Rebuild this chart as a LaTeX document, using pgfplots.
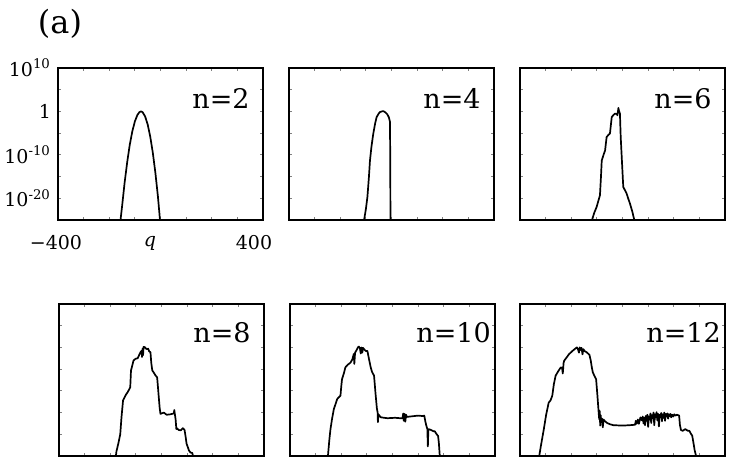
\documentclass[border=0pt]{standalone}
\usepackage{fontspec}
\setmainfont{DejaVu Serif}
\usepackage{pgfplots}
\pgfplotsset{compat=1.18}

% y is log10 of the probability, labelled as powers of ten
\pgfplotsset{
  panel/.style={
    scale only axis, width=102.5pt, height=76pt,
    xmin=-400, xmax=400, ymin=-25, ymax=10,
    xtick={-300,-200,...,300}, ytick={-20,-15,...,5},
    xticklabels={}, yticklabels={},
    tick align=inside, major tick length=1.5pt,
    axis line style={line width=0.75pt},
    every tick/.append style={line width=0.5pt},
    clip=false,
  },
  curve/.style={black, line width=0.85pt, no markers, line join=round},
}
\tikzset{nlab/.style={anchor=north west, inner sep=0pt, font=\fontsize{13.5}{15}\selectfont}}

\begin{document}
\begin{tikzpicture}
\path[use as bounding box] (0,0) rectangle (365.5pt,233pt);
\node[font=\fontsize{16}{18}\selectfont] at (30pt,221pt) {(a)};

% n=2
\begin{axis}[panel, at={(29pt,123pt)}, anchor=south west,
  ytick={-20,-15,...,10},
  yticklabels={10\textsuperscript{-20},,10\textsuperscript{-10},,1,,10\textsuperscript{10}},
  yticklabel style={font=\fontsize{9.5}{11}\selectfont}]
\addplot[curve] coordinates {
(-156,-25) (-150,-21.9) (-140,-16.4) (-130,-11.7) (-120,-7.7) (-110,-4.6)
(-100,-2.3) (-90,-0.8) (-82,-0.15) (-76,0) (-70,-0.16) (-60,-1.15) (-50,-3.0)
(-40,-5.8) (-30,-9.5) (-20,-14.1) (-10,-19.6) (-3,-24.3) (-2,-25)};
\node[nlab, xshift=67pt, yshift=-10pt] at (rel axis cs:0,1) {n=2};
\node[font=\fontsize{9.5}{11}\selectfont] at (axis cs:-408,-30.3) {−400};
\node[font=\fontsize{9.5}{11}\selectfont\itshape] at (axis cs:-41,-30.3) {q};
\node[font=\fontsize{9.5}{11}\selectfont] at (axis cs:365,-30.3) {400};
\end{axis}

% n=4
\begin{axis}[panel, at={(144.5pt,123pt)}, anchor=south west]
\addplot[curve] coordinates {
(-107,-25) (-100,-22.5) (-94,-19.7) (-88,-15) (-84,-11.3) (-78,-8) (-71,-5.1)
(-64,-2.8) (-58,-1.3) (-50,-0.5) (-45,-0.15) (-38,0) (-32,0.07) (-24,-0.2)
(-16,-0.7) (-10,-1.4) (-6,-2.4) (-5,-10) (-4,-25)};
\node[nlab, xshift=67pt, yshift=-10pt] at (rel axis cs:0,1) {n=4};
\end{axis}

% n=6
\begin{axis}[panel, at={(260pt,123pt)}, anchor=south west]
\addplot[curve] coordinates {
(-119,-25) (-110,-23.3) (-101,-22) (-88,-19.3) (-84,-15) (-81,-11.3) (-74,-10)
(-68,-9) (-62,-5.9) (-55,-5.4) (-49,-5.1) (-42,-1.3) (-35,-0.8) (-29,-0.5)
(-22,-0.6) (-20,-0.9) (-17,0.3) (-16,0.8) (-14,0.2) (-10,-0.5) (-7,-5.9)
(0,-14) (3,-17.4) (10,-18.2) (16,-18.9) (22,-20) (29,-21.2) (38,-23) (46,-25)};
\node[nlab, xshift=67pt, yshift=-10pt] at (rel axis cs:0,1) {n=6};
\end{axis}

% n=8
\begin{axis}[panel, at={(29.5pt,5pt)}, anchor=south west]
\addplot[curve] coordinates {
(-178,-25) (-176,-24) (-168,-22) (-161,-20) (-156,-16) (-150,-12.2) (-140,-11)
(-132,-10.3) (-122,-9.2) (-119,-5.3) (-109,-3) (-101,-2.6) (-93,-2.5) (-86,-1.6)
(-82,-1.1) (-78,-0.8) (-76,-2.2) (-74,-0.3) (-72,-1.8) (-70,0.1) (-69,0.15)
(-64,0) (-60,-0.3) (-56,-0.4) (-52,-0.3) (-48,-0.9) (-43,-1.1) (-40,-3.5)
(-36,-5.3) (-30,-5.8) (-24,-6.4) (-17,-6.9) (-14,-9) (-10,-11.9) (-7,-14)
(-4,-15.3) (0,-15.2) (9,-15) (20,-15.5) (35,-15.4) (48,-15.2) (50,-14.4)
(52,-15.3) (55,-16.5) (58,-18.8) (60,-18.6) (67,-19) (75,-19.1) (83,-18.6)
(90,-19) (94,-20.5) (98,-22.2) (103,-23) (107,-23.7) (113,-24.2) (120,-24.3) (123,-25)};
\node[nlab, xshift=67pt, yshift=-9pt] at (rel axis cs:0,1) {n=8};
\end{axis}

% n=10
\begin{axis}[panel, at={(145pt,5pt)}, anchor=south west]
\addplot[curve] coordinates {
(-252,-25) (-249,-23) (-246,-21) (-242,-18.8) (-236,-16.5) (-229,-14.2)
(-222,-13) (-216,-11.9) (-210,-11.5) (-203,-11.1) (-200,-9) (-197,-7.3)
(-190,-6) (-184,-4.6) (-175,-4) (-164,-3.5) (-157,-2.8) (-151,-1.5)
(-149,-3.8) (-146,-1.2) (-140,-0.6) (-135,0) (-131,0.2) (-127,-0.2)
(-124,-1.4) (-121,0) (-118,-1.2) (-115,-0.1) (-111,-0.4) (-105,-0.8)
(-98,-0.8) (-92,-2.6) (-85,-4.6) (-80,-5.6) (-72,-6.5) (-66,-10.8) (-61,-14)
(-58,-15) (-57,-17.2) (-55,-15.4) (-50,-15.8) (-45,-16.1) (-20,-16.3)
(10,-16.2) (30,-16.3) (39,-16.3) (42,-15.2) (44,-16.9) (47,-15.3) (50,-17.1)
(53,-15.5) (56,-16) (70,-15.9) (85,-15.8) (100,-15.7) (118,-15.8) (124,-15.7)
(128,-17) (132,-18) (136,-18.8) (138,-22.8) (140,-18.8) (150,-19) (160,-19.3)
(165,-19.3) (170,-19.8) (178,-20.4) (181,-22) (184,-24.6) (186,-25)};
\node[nlab, xshift=63pt, yshift=-9pt] at (rel axis cs:0,1) {n=10};
\end{axis}

% n=12
\begin{axis}[panel, at={(260pt,5pt)}, anchor=south west]
\addplot[curve] coordinates {
(-325,-25) (-318,-22.5) (-307,-18.8) (-298,-15.5) (-288,-12.7) (-281,-12.2)
(-274,-11.1) (-268,-8.5) (-261,-6.5) (-251,-5.5) (-241,-4.6) (-236,-4.7)
(-233,-6.0) (-230,-3.6) (-228,-3.1) (-218,-2.3) (-208,-1.5) (-195,-0.8)
(-185,-0.3) (-178,0) (-174,-0.4) (-170,-1.2) (-167,0) (-163,-0.6) (-160,-0.1)
(-156,-1.6) (-153,-0.4) (-147,-0.9) (-140,-1.1) (-133,-1.5) (-129,-1.7)
(-124,-3.0) (-120,-4.5) (-116,-5.7) (-110,-6.5) (-103,-7.3) (-98,-11) (-93,-15)
(-91,-16.5) (-89,-14.6) (-87,-18) (-85,-15.6) (-83,-17.2) (-80,-16.4)
(-77,-18.4) (-74,-16.6) (-70,-16.9) (-60,-17.4) (-48,-17.7) (-36,-17.9)
(0,-18) (30,-17.9) (49,-17.8) (52,-16.9) (55,-17.6) (60,-16.6) (64,-17.6)
(70,-16.1) (76,-16.8) (79,-15.9) (82,-17.5) (85,-16.2) (88,-17.9) (91,-15.8)
(94,-16.9) (97,-15.5) (100,-18.3) (103,-15.9) (106,-16.6) (109,-15.2)
(112,-17.4) (115,-15.6) (118,-16.3) (121,-15.0) (124,-17.9) (127,-15.4)
(130,-16.1) (133,-14.9) (136,-16.8) (139,-15.3) (142,-18.2) (145,-15.5)
(148,-16.0) (151,-15.1) (154,-17.0) (157,-15.4) (160,-16.2) (163,-15.0)
(166,-16.9) (169,-15.3) (172,-15.9) (175,-15.2) (178,-16.4) (181,-15.4)
(184,-15.8) (187,-15.3) (190,-16.1) (194,-15.5) (198,-15.9) (202,-15.4)
(207,-15.7) (212,-15.5) (217,-15.6) (221,-15.7) (224,-17.8) (228,-19)
(235,-19.2) (245,-18.8) (255,-19.2) (261,-19.2) (266,-19.8) (272,-20.3)
(277,-22) (282,-23.8) (285,-24.5) (287,-25)};
\node[nlab, xshift=63pt, yshift=-9pt] at (rel axis cs:0,1) {n=12};
\end{axis}
\end{tikzpicture}
\end{document}
